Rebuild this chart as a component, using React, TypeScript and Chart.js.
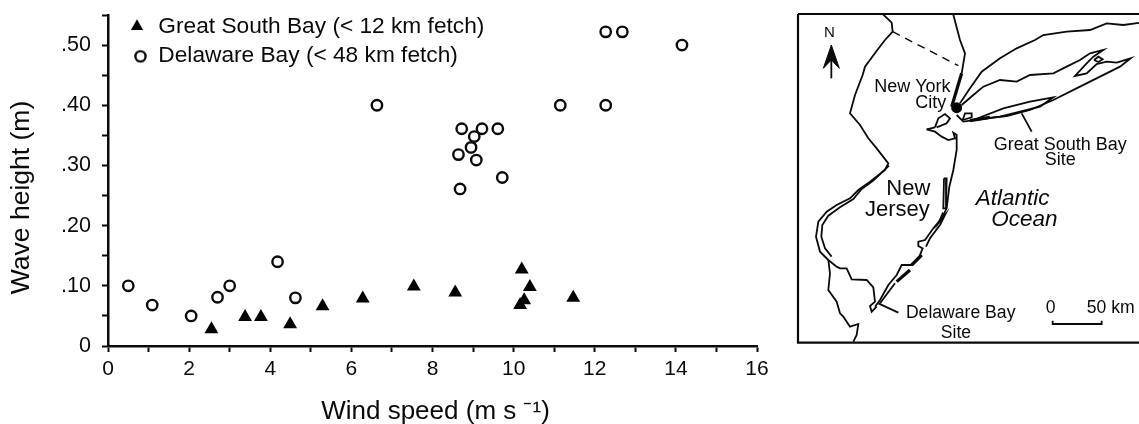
import React, { useEffect, useRef } from "react";
import { Chart, registerables } from "chart.js";

Chart.register(...registerables);

const FONT = '"Liberation Sans", Arial, sans-serif';
const INK = "#0a0a0a";

// ---- Scatter data (wind speed m/s, wave height m)
const gsbWind = [2.55, 3.38, 3.77, 4.49, 5.29, 6.28, 7.54, 8.56, 10.2, 10.4, 10.26, 10.16, 11.47];
const gsbWave = [0.028, 0.048, 0.048, 0.036, 0.066, 0.079, 0.099, 0.089, 0.127, 0.098, 0.076, 0.068, 0.08];
const delWind = [0.5, 1.09, 2.05, 2.7, 3.0, 4.18, 4.62, 6.63, 8.72, 9.22, 9.61, 9.03, 8.95, 8.64, 9.08, 9.72, 8.68, 11.15, 12.27, 12.27, 12.68, 14.15];
const delWave = [0.1, 0.068, 0.05, 0.081, 0.1, 0.14, 0.08, 0.4, 0.361, 0.361, 0.361, 0.348, 0.33, 0.318, 0.309, 0.28, 0.261, 0.4, 0.4, 0.522, 0.522, 0.5];
const seriesNames = ["Great South Bay (< 12 km fetch)", "Delaware Bay (< 48 km fetch)"];
const xTitle = "Wind speed (m s ⁻¹)";
const yTitle = "Wave height (m)";

// ---- Map outlines, in map units (x, y pairs)
const frame = [24, 42, 1060, 42, 1060, 1028, 24, 1028, 24, 42];
const westBorder = [280, 44, 305, 68, 308, 95, 285, 120, 262, 150, 225, 200, 218, 225, 195, 285, 180, 340, 210, 375, 235, 415, 260, 445, 295, 490, 285, 510, 240, 545, 205, 570, 180, 595, 140, 615, 110, 635, 85, 665, 78, 710, 90, 755, 115, 780, 140, 800, 150, 805, 170, 805, 185, 838, 230, 840, 250, 862, 255, 905, 240, 918, 245, 935, 260, 920];
const riverInner = [297, 497, 250, 542, 215, 567, 190, 597, 150, 622, 115, 647, 97, 675, 94, 710, 105, 745, 125, 770];
const delawareWest = [115, 780, 120, 820, 115, 870, 140, 905, 150, 940, 160, 950, 180, 980, 205, 972, 200, 1005, 190, 1025];
const stateLine = [308, 95, 505, 197];
const hudsonUpper = [490, 44, 510, 120, 525, 160, 515, 220];
const hudsonLower = [515, 220, 500, 270, 485, 320];
const northShore = [510, 310, 540, 265, 575, 215, 630, 175, 680, 145, 735, 120, 760, 105, 830, 95, 900, 90, 950, 70, 1000, 75, 1050, 68];
const soundShore = [515, 315, 550, 285, 580, 260, 630, 240, 680, 245, 720, 225, 790, 220, 830, 200, 870, 180, 900, 160, 940, 150, 910, 170, 890, 190, 855, 228, 890, 220, 920, 192, 950, 185, 980, 188, 1022, 175, 990, 200, 930, 230, 870, 260, 790, 300, 720, 330, 650, 348, 590, 355, 520, 365, 500, 345];
const smallIsland = [518, 360, 525, 340, 545, 340, 545, 352, 518, 360];
const greatSouthBay = [550, 360, 640, 325, 720, 305, 790, 292, 750, 320, 690, 335, 630, 350, 550, 360];
const bayThickEdge = [540, 362, 600, 352];
const islet = [912, 180, 925, 170, 938, 178, 925, 186, 912, 180];
const statenIsland = [435, 382, 445, 355, 465, 342, 480, 355, 470, 370, 440, 382];
const njCoast = [410, 388, 435, 395, 455, 410, 475, 420, 495, 415, 490, 398, 500, 405, 500, 450, 490, 510, 478, 560, 470, 625, 455, 655, 430, 685, 405, 720, 385, 725, 385, 738, 398, 745, 388, 770, 365, 795, 335, 795, 320, 825, 295, 855, 270, 900, 255, 920];
const njNorthTip = [410, 388, 435, 382];
const barrierA = [462, 535, 470, 535, 468, 625, 460, 625, 462, 535];
const barrierB = [465, 645, 458, 640, 445, 670, 465, 645, 450, 675, 420, 715, 408, 740];
const barrierC = [395, 765, 365, 795];
const barrierD = [360, 810, 320, 845];
const barrierE = [315, 850, 270, 910];
const gsbLeader = [695, 340, 725, 395];
const delLeader = [265, 910, 325, 938];
const scaleBar = [788, 962, 788, 972, 935, 972, 935, 962];
const arrowShaft = [124, 235, 124, 180];
const arrowHead = [124, 135, 148, 205, 124, 180, 100, 205, 124, 135];
const nycDot = [500, 323];

const thinLines = [westBorder, riverInner, delawareWest, hudsonUpper, northShore, soundShore, smallIsland, greatSouthBay, islet, statenIsland, njCoast, njNorthTip, barrierA, barrierB, barrierE, gsbLeader, delLeader, scaleBar, arrowShaft];
const thickLines = [hudsonLower, barrierC, barrierD, bayThickEdge];

const mapTexts = ["N", "New York", "City", "Great South Bay", "Site", "New", "Jersey", "Atlantic", "Ocean", "Delaware Bay", "Site", "0", "50 km"];
const mapTextX = [118, 367, 422, 811, 811, 355, 322, 668, 703, 512, 498, 782, 962];
const mapTextY = [98, 262, 308, 436, 480, 568, 630, 597, 658, 938, 1000, 924, 924];
const mapTextFont = [
  `15px ${FONT}`, `18px ${FONT}`, `18px ${FONT}`, `18px ${FONT}`, `18px ${FONT}`,
  `22px ${FONT}`, `22px ${FONT}`, `italic 22.5px ${FONT}`, `italic 22.5px ${FONT}`,
  `17.6px ${FONT}`, `17.6px ${FONT}`, `17.6px ${FONT}`, `17.6px ${FONT}`,
];

const toPoints = (flat: number[]) => {
  const pts: { x: number; y: number }[] = [];
  for (let i = 0; i < flat.length; i += 2) pts.push({ x: flat[i], y: flat[i + 1] });
  return pts;
};

function ringCanvas() {
  const c = document.createElement("canvas");
  c.width = 24;
  c.height = 16;
  const g = c.getContext("2d")!;
  g.strokeStyle = INK;
  g.lineWidth = 2.4;
  g.beginPath();
  g.arc(15.5, 9, 5.1, 0, Math.PI * 2);
  g.stroke();
  return c;
}

const legendPlacement = {
  id: "legendPlacement",
  afterLayout(chart: any) {
    const l = chart.legend;
    const p = l.options.labels.padding;
    l.left = 127 - p;
    l.right = l.left + 500;
    l.top = 15 - p;
    l.bottom = l.top + 80;
  },
};

const mapTextPlugin = {
  id: "mapText",
  afterDatasetsDraw(chart: any) {
    const { ctx, scales } = chart;
    ctx.save();
    ctx.fillStyle = INK;
    ctx.textAlign = "center";
    ctx.textBaseline = "middle";
    mapTexts.forEach((t, i) => {
      ctx.font = mapTextFont[i];
      ctx.fillText(t, scales.x.getPixelForValue(mapTextX[i]), scales.y.getPixelForValue(mapTextY[i]));
    });
    ctx.restore();
  },
};

export default function App() {
  const plotRef = useRef<HTMLCanvasElement>(null);
  const mapRef = useRef<HTMLCanvasElement>(null);

  useEffect(() => {
    const ring = ringCanvas();
    const plot = new Chart(plotRef.current!, {
      type: "scatter",
      data: {
        datasets: [
          {
            label: seriesNames[0],
            data: gsbWind.map((x, i) => ({ x, y: gsbWave[i] })),
            pointStyle: "triangle",
            pointRadius: 8,
            pointBackgroundColor: "#000",
            pointBorderWidth: 0,
            backgroundColor: "#000",
            borderColor: "#000",
          },
          {
            label: seriesNames[1],
            data: delWind.map((x, i) => ({ x, y: delWave[i] })),
            pointStyle: "circle",
            pointRadius: 5.2,
            pointBackgroundColor: "rgba(0,0,0,0)",
            pointBorderColor: INK,
            pointBorderWidth: 2.4,
            backgroundColor: "rgba(0,0,0,0)",
            borderColor: INK,
          },
        ],
      },
      options: {
        responsive: false,
        animation: false,
        layout: { autoPadding: false, padding: { left: 0, top: 15, right: 382, bottom: 0 } },
        plugins: {
          tooltip: { enabled: false },
          legend: {
            display: true,
            position: "chartArea",
            align: "start",
            labels: {
              usePointStyle: true,
              boxWidth: 20,
              boxHeight: 10,
              padding: 6.3,
              color: INK,
              font: { family: FONT, size: 22.7 },
              generateLabels(chart: any) {
                const items = (Chart.defaults.plugins.legend.labels as any).generateLabels(chart);
                items[1].pointStyle = ring;
                return items;
              },
            },
          },
        },
        scales: {
          x: {
            type: "linear",
            min: 0,
            max: 16,
            afterFit(s: any) {
              s.height = 78;
              if (!s.__shifted) {
                s.__shifted = true;
                const draw = s.drawTitle.bind(s);
                s.drawTitle = () => {
                  const l = s.left;
                  const r = s.right;
                  s.left = l + 3;
                  s.right = r + 3;
                  draw();
                  s.left = l;
                  s.right = r;
                };
              }
            },
            border: { display: true, width: 2.5, color: INK },
            grid: { drawOnChartArea: false, drawTicks: true, tickLength: 6, tickWidth: 2, tickColor: INK },
            ticks: {
              stepSize: 1,
              autoSkip: false,
              maxRotation: 0,
              padding: 5,
              color: INK,
              font: { family: FONT, size: 21 },
              callback: (v: any) => (Number(v) % 2 === 0 ? String(v) : ""),
            },
            title: { display: true, text: xTitle, color: INK, font: { family: FONT, size: 26 }, padding: { top: 11, bottom: -3 } },
          },
          y: {
            type: "linear",
            min: 0,
            max: 0.55,
            afterFit(s: any) {
              s.width = 108;
              s.paddingTop = 0;
              s.paddingBottom = 0;
              if (s._margins) {
                s._margins.top = 0;
                s._margins.bottom = 0;
              }
              if (!s.__shifted) {
                s.__shifted = true;
                const draw = s.drawTitle.bind(s);
                s.drawTitle = () => {
                  const t = s.top;
                  const b = s.bottom;
                  s.top = t + 17;
                  s.bottom = b + 17;
                  draw();
                  s.top = t;
                  s.bottom = b;
                };
              }
            },
            border: { display: true, width: 2.5, color: INK },
            grid: { drawOnChartArea: false, drawTicks: true, tickLength: 6, tickWidth: 2, tickColor: INK },
            ticks: {
              stepSize: 0.05,
              autoSkip: false,
              padding: 11,
              color: INK,
              font: { family: FONT, size: 21.5 },
              callback: (v: any) => {
                const k = Math.round(Number(v) * 100);
                if (k === 0) return "0";
                return k % 10 === 0 ? "." + String(k) : "";
              },
            },
            title: { display: true, text: yTitle, color: INK, font: { family: FONT, size: 26.5 }, padding: { top: 6, bottom: 0 } },
          },
        },
      },
      plugins: [legendPlacement],
    } as any);

    const lineSet = (flat: number[], extra: any = {}) => ({
      data: toPoints(flat),
      showLine: true,
      borderColor: INK,
      borderWidth: 1.8,
      pointRadius: 0,
      tension: 0,
      clip: false,
      ...extra,
    });

    const map = new Chart(mapRef.current!, {
      type: "scatter",
      data: {
        datasets: [
          lineSet(frame, { borderWidth: 2.2 }),
          ...thinLines.map((l) => lineSet(l)),
          ...thickLines.map((l) => lineSet(l, { borderWidth: 3.2 })),
          lineSet(stateLine, { borderDash: [8, 6], borderWidth: 1.4 }),
          lineSet(arrowHead, { fill: "shape", backgroundColor: INK, borderWidth: 1 }),
          { data: toPoints(nycDot), pointRadius: 5.5, pointBackgroundColor: "#000", pointBorderWidth: 0 },
        ],
      },
      options: {
        responsive: false,
        animation: false,
        layout: { autoPadding: false, padding: 0 },
        plugins: { legend: { display: false }, tooltip: { enabled: false } },
        scales: {
          x: { type: "linear", min: 0, max: 1047, display: false },
          y: { type: "linear", min: 0, max: 1050, reverse: true, display: false },
        },
      },
      plugins: [mapTextPlugin],
    } as any);

    return () => {
      plot.destroy();
      map.destroy();
    };
  }, []);

  return (
    <div style={{ position: "absolute", left: 0, top: 0, width: 1139, height: 424, background: "#fff", overflow: "hidden" }}>
      <canvas ref={plotRef} width={1139} height={424} style={{ position: "absolute", left: 0, top: 0 }} />
      <canvas ref={mapRef} width={349} height={350} style={{ position: "absolute", left: 790, top: 0 }} />
    </div>
  );
}
